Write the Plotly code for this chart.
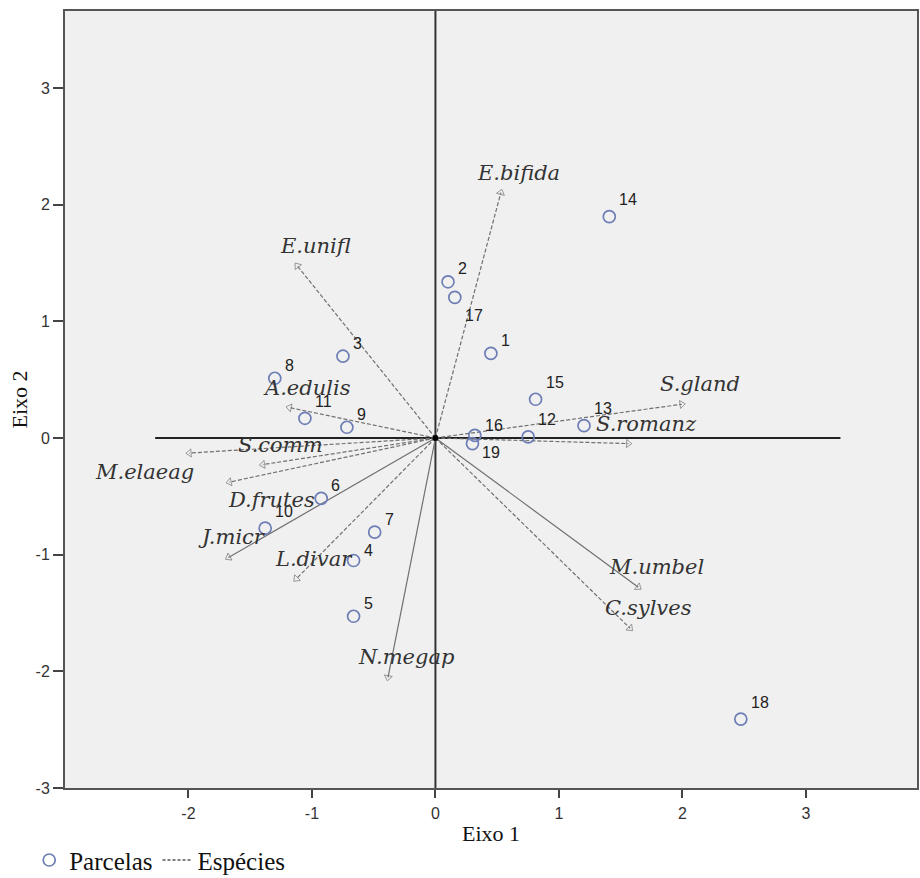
import plotly.graph_objects as go

# Plot (site) scores on the first two ordination axes
plot_ids = ["1", "2", "3", "4", "5", "6", "7", "8", "9", "10",
            "11", "12", "13", "14", "15", "16", "17", "18", "19"]
plot_x = [0.449, 0.102, -0.749, -0.663, -0.663, -0.925, -0.492, -1.301, -0.717, -1.379,
          -1.057, 0.751, 1.203, 1.408, 0.811, 0.319, 0.157, 2.473, 0.300]
plot_y = [0.725, 1.339, 0.701, -1.050, -1.528, -0.518, -0.807, 0.512, 0.092, -0.773,
          0.169, 0.009, 0.106, 1.897, 0.332, 0.023, 1.205, -2.409, -0.048]

# Species vectors (arrow tips)
species = ["E.bifida", "E.unifl", "A.edulis", "S.comm", "M.elaeag", "D.frutes",
           "J.micr", "L.divar", "N.megap", "C.sylves", "M.umbel", "S.romanz", "S.gland"]
species_x = [0.530, -1.119, -1.182, -1.398, -1.993, -1.668,
             -1.676, -1.127, -0.384, 1.576, 1.643, 1.562, 1.995]
species_y = [2.103, 1.476, 0.261, -0.228, -0.129, -0.378,
             -1.024, -1.207, -2.052, -1.631, -1.279, -0.048, 0.289]

axis_ticks_x = [-2, -1, 0, 1, 2, 3]
axis_ticks_y = [-3, -2, -1, 0, 1, 2, 3]

# line style per vector and label offsets (pixels) from the arrow tip
vector_dash = {"J.micr": "solid", "N.megap": "solid", "M.umbel": "solid"}
label_shift = {"M.elaeag": (-45, -19), "D.frutes": (42, -18), "J.micr": (4, 20)}
default_shift = (18, 20)

# vertical offset (pixels) of each point label above its marker
id_yshift = {"10": 17, "11": 17, "12": 17, "13": 17, "14": 17, "15": 17, "18": 17,
             "4": 10, "16": 10, "17": -18, "19": -9}
default_id_yshift = 13

vec_color = "#707070"
fig = go.Figure()

for name, sx, sy in zip(species, species_x, species_y):
    dash = vector_dash.get(name, "4px,2px")
    fig.add_trace(go.Scatter(
        x=[0, sx], y=[0, sy], mode="lines+markers",
        line=dict(color=vec_color, width=1.2, dash=dash),
        marker=dict(symbol="triangle-up-open", size=[0, 7], angleref="previous",
                    color=vec_color, line=dict(width=1, color=vec_color)),
        showlegend=False, hoverinfo="skip"))

fig.add_trace(go.Scatter(
    x=[0], y=[0], mode="markers",
    marker=dict(color="black", size=6), showlegend=False, hoverinfo="skip"))

fig.add_trace(go.Scatter(
    x=plot_x, y=plot_y, mode="markers", name="Parcelas",
    marker=dict(symbol="circle-open", size=12, color="#6d7db5", line=dict(width=1.7)),
    showlegend=True, hoverinfo="skip"))

# legend entry for the species vectors
fig.add_trace(go.Scatter(
    x=[None], y=[None], mode="lines", name="Espécies",
    line=dict(color="#555555", width=1.5, dash="3px,2px"), showlegend=True))

for pid, px, py in zip(plot_ids, plot_x, plot_y):
    fig.add_annotation(
        x=px, y=py, text=pid, showarrow=False, xanchor="left", yanchor="middle",
        xshift=8, yshift=id_yshift.get(pid, default_id_yshift),
        font=dict(family="Liberation Sans, Arial", size=16, color="#222222"))

for name, sx, sy in zip(species, species_x, species_y):
    dx, dy = label_shift.get(name, default_shift)
    fig.add_annotation(
        x=sx, y=sy, text="<i>" + name + "</i>", showarrow=False, xshift=dx, yshift=dy,
        font=dict(family="DejaVu Serif", size=21, color="#333333"))

# reference axes through the origin
fig.add_shape(type="line", x0=-2.27, x1=3.28, y0=0, y1=0,
              line=dict(color="#222222", width=2), layer="below")
fig.add_shape(type="line", x0=0, x1=0, y0=-3.0, y1=3.66,
              line=dict(color="#333333", width=2), layer="below")

axis_common = dict(
    showgrid=False, zeroline=False, showline=True, mirror=True, automargin=False,
    linecolor="#555555", linewidth=2, ticks="outside", tickcolor="#444444",
    tickwidth=2, tickfont=dict(family="Liberation Sans, Arial", size=16, color="#333333"))

title_font = dict(family="Liberation Serif, Times New Roman", size=22, color="#111111")

fig.update_layout(
    width=920, height=878,
    margin=dict(l=65, r=3, t=11, b=90, autoexpand=False),
    paper_bgcolor="white", plot_bgcolor="#f0f0f0",
    xaxis=dict(range=[-3.0, 3.9], ticklen=8, ticklabelstandoff=2,
               tickvals=axis_ticks_x, ticktext=[str(v) for v in axis_ticks_x],
               title=dict(text="Eixo 1", standoff=4, font=title_font), **axis_common),
    yaxis=dict(range=[-3.0, 3.66], ticklen=10,
               tickvals=axis_ticks_y, ticktext=[str(v) for v in axis_ticks_y],
               title=dict(text="Eixo 2", standoff=2, font=title_font), **axis_common),
    legend=dict(orientation="h", x=-0.042, y=-0.093, xanchor="left", yanchor="middle",
                font=dict(family="Liberation Serif, Times New Roman", size=25, color="#111111"),
                bgcolor="rgba(0,0,0,0)", itemwidth=30),
    showlegend=True,
)

fig.write_html("out.html")
